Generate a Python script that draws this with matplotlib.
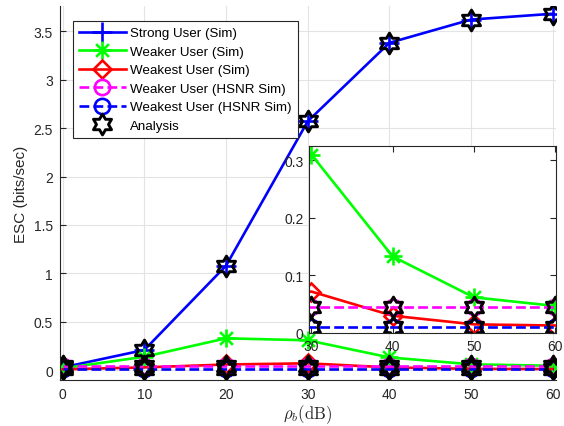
import numpy as np
import matplotlib
matplotlib.use("Agg")
import matplotlib.pyplot as plt
from matplotlib.path import Path

plt.rcParams['font.family'] = ['Liberation Sans', 'DejaVu Sans']
plt.rcParams['mathtext.fontset'] = 'cm'

rho = [0, 10, 20, 30, 40, 50, 60]
strong_sim = [0.03, 0.21, 1.08, 2.57, 3.38, 3.62, 3.68]
weaker_sim = [0.02, 0.14, 0.33, 0.31, 0.133, 0.062, 0.047]
weakest_sim = [0.01, 0.03, 0.06, 0.072, 0.03, 0.015, 0.013]
weaker_hsnr = [0.045, 0.045, 0.045, 0.045, 0.045, 0.045, 0.045]
weakest_hsnr = [0.01, 0.01, 0.01, 0.01, 0.01, 0.01, 0.01]
strong_ana = strong_sim
weaker_ana = weaker_hsnr
weakest_ana = weakest_hsnr

labels = ['Strong User (Sim)', 'Weaker User (Sim)', 'Weakest User (Sim)',
          'Weaker User (HSNR Sim)', 'Weakest User (HSNR Sim)', 'Analysis']

# custom markers
# 8-arm asterisk
ast_v, ast_c = [], []
for ang in np.arange(0, 180, 45):
    a = np.deg2rad(ang)
    ast_v += [(-np.cos(a), -np.sin(a)), (np.cos(a), np.sin(a))]
    ast_c += [Path.MOVETO, Path.LINETO]
asterisk = Path(ast_v, ast_c)

# hexagram
hv = []
for k in range(12):
    a = np.deg2rad(90 + 30 * k)
    r = 1.0 if k % 2 == 0 else 1 / np.sqrt(3)
    hv.append((r * np.cos(a), r * np.sin(a)))
hv.append(hv[0])
hexagram = Path(hv, [Path.MOVETO] + [Path.LINETO] * 11 + [Path.CLOSEPOLY])

LW = 1.9
HS = 15

def draw(ax):
    h = []
    h += ax.plot(rho, strong_sim, '-', color='#0000ff', lw=LW, marker='+', ms=15, mew=LW)
    h += ax.plot(rho, weaker_sim, '-', color='#00ff00', lw=LW, marker=asterisk, ms=13, mew=LW)
    h += ax.plot(rho, weakest_sim, '-', color='#ff0000', lw=LW, marker='D', ms=9.5, mew=LW, mfc='none')
    h += ax.plot(rho, weaker_hsnr, '--', color='#ff00ff', lw=LW, marker='o', ms=11, mew=LW, mfc='none')
    h += ax.plot(rho, weakest_hsnr, '--', color='#0000ff', lw=LW, marker='o', ms=11, mew=LW, mfc='none')
    h += ax.plot(rho, strong_ana, ls='none', color='k', marker=hexagram, ms=HS, mew=LW + 0.2, mfc='none')
    ax.plot(rho, weaker_ana, ls='none', color='k', marker=hexagram, ms=HS, mew=LW + 0.2, mfc='none')
    ax.plot(rho, weakest_ana, ls='none', color='k', marker=hexagram, ms=HS, mew=LW + 0.2, mfc='none')
    return h

fig = plt.figure(figsize=(5.64, 4.27), dpi=100)
ax = fig.add_axes([60/564, 46/427, 496/564, 374/427])
h = draw(ax)
ax.set_xlim(-0.33, 60.4)
ax.set_ylim(-0.1, 3.76)
ax.set_xticks(rho)
ax.set_yticks([0, 0.5, 1, 1.5, 2, 2.5, 3, 3.5])
ax.set_yticklabels(['0', '0.5', '1', '1.5', '2', '2.5', '3', '3.5'])
ax.grid(True, color='#e3e3e3', lw=0.8)
ax.set_axisbelow(True)
for s in ['top', 'right']:
    ax.spines[s].set_visible(False)
for s in ['left', 'bottom']:
    ax.spines[s].set_color('#262626')
ax.tick_params(direction='in', length=4, labelsize=10, colors='#262626', pad=5)
ax.set_ylabel('ESC (bits/sec)', fontsize=11, color='#262626', labelpad=4)
ax.set_xlabel(r'$\rho_b(\mathrm{dB})$', fontsize=12, color='#262626', labelpad=1)

leg = ax.legend(h, labels, loc='upper left', bbox_to_anchor=(13/496, 1 - 15/374),
                borderaxespad=0, fontsize=9.6, handlelength=3.5, labelspacing=0.46,
                borderpad=0.45, handletextpad=0.35, fancybox=False, framealpha=1,
                edgecolor='#262626')
leg.get_frame().set_linewidth(0.8)

axi = fig.add_axes([309/564, 93/427, 247/564, 187/427])
draw(axi)
axi.set_xlim(29.7, 60.1)
axi.set_ylim(0, 0.325)
axi.set_xticks([30, 40, 50, 60])
axi.set_yticks([0, 0.1, 0.2, 0.3])
axi.set_yticklabels(['0', '0.1', '0.2', '0.3'])
axi.tick_params(direction='in', length=4, labelsize=10, colors='#262626',
                top=True, right=True, pad=4)
for s in axi.spines.values():
    s.set_color('#262626')

fig.savefig('out.png', dpi=100)
